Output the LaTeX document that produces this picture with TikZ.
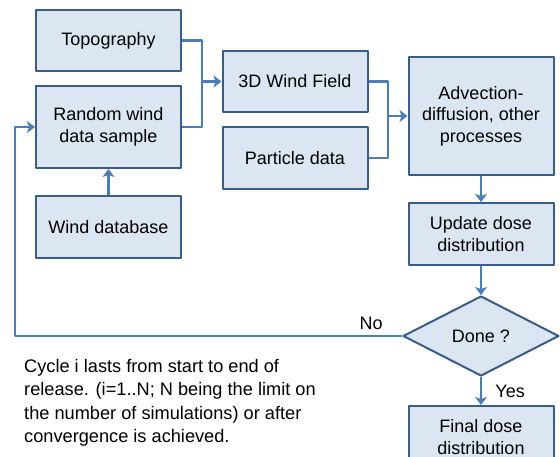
\documentclass[tikz,border=0pt]{standalone}
\usepackage{fontspec}
\setmainfont{Liberation Sans}
\usetikzlibrary{shapes.geometric,arrows.meta}
\definecolor{boxfill}{HTML}{DCE6F2}
\definecolor{boxline}{HTML}{385D8A}
\definecolor{arrline}{HTML}{4A7EBB}
\begin{document}
\begin{tikzpicture}[x=1pt, y=-1pt, line join=round, >={Stealth[width=12pt,length=8pt,inset=2pt]},
	box/.style={draw=boxline, fill=boxfill, line width=2pt, minimum width=145pt, align=center, inner sep=2pt, font=\fontsize{18}{21.5}\selectfont},
	decision/.style={diamond, draw=boxline, fill=boxfill, line width=2pt, minimum width=156pt, minimum height=80pt, inner sep=1pt, font=\fontsize{18}{21.5}\selectfont},
	link/.style={draw=arrline, line width=2.2pt},
	arr/.style={link, ->},
	lbl/.style={font=\fontsize{18}{21.5}\selectfont, text=black}]
				\clip (0,0) rectangle (560,457);
				\node[box, minimum height=61pt] (topo) at (108.5,40.5) {Topography};
				\node[box, minimum height=82pt] (rand) at (108.5,127) {Random wind\\data sample};
				\node[box, minimum height=62pt] (wdb) at (108.5,227) {Wind database};
				\node[box, minimum height=61pt] (wind) at (295,81.5) {3D Wind Field};
				\node[box, minimum height=62pt] (part) at (295,158) {Particle data};
				\node[box, minimum height=118pt] (adv) at (481,116) {Advection-\\diffusion, other\\processes};
				\node[box, minimum height=62pt] (upd) at (481,234) {Update dose\\distribution};
				\node[decision] (done) at (481,336) {Done ?};
				\node[box, minimum height=62pt] (final) at (481,437) {Final dose\\distribution};
				\coordinate (j1) at (202,81.5);
				\coordinate (j2) at (388,116);
				\coordinate (back) at (15,336);
				\draw[link] (topo.east) -| (j1);
				\draw[link] (rand.east) -| (j1);
				\draw[arr] (j1) -- (wind.west);
				\draw[link] (wind.east) -| (j2);
				\draw[link] (part.east) -| (j2);
				\draw[arr] (j2) -- (adv.west);
				\draw[arr] (wdb) -- (rand);
				\draw[arr] (adv) -- (upd);
				\draw[arr] (upd) -- (done);
				\draw[arr] (done) -- node[lbl, right=10pt] {Yes} (final);
				\draw[arr] (done.west) -- node[lbl, pos=0.08, above=2pt] {No} (back) |- (rand.west);
				\node[lbl, anchor=north west, inner sep=0pt, align=left, font=\fontsize{18.2}{23.5}\selectfont] (note) at (24,359) {Cycle i lasts from start to end of\\release. (i=1..N; N being the limit on\\the number of simulations) or after\\convergence is achieved.};
	\end{tikzpicture}
\end{document}
